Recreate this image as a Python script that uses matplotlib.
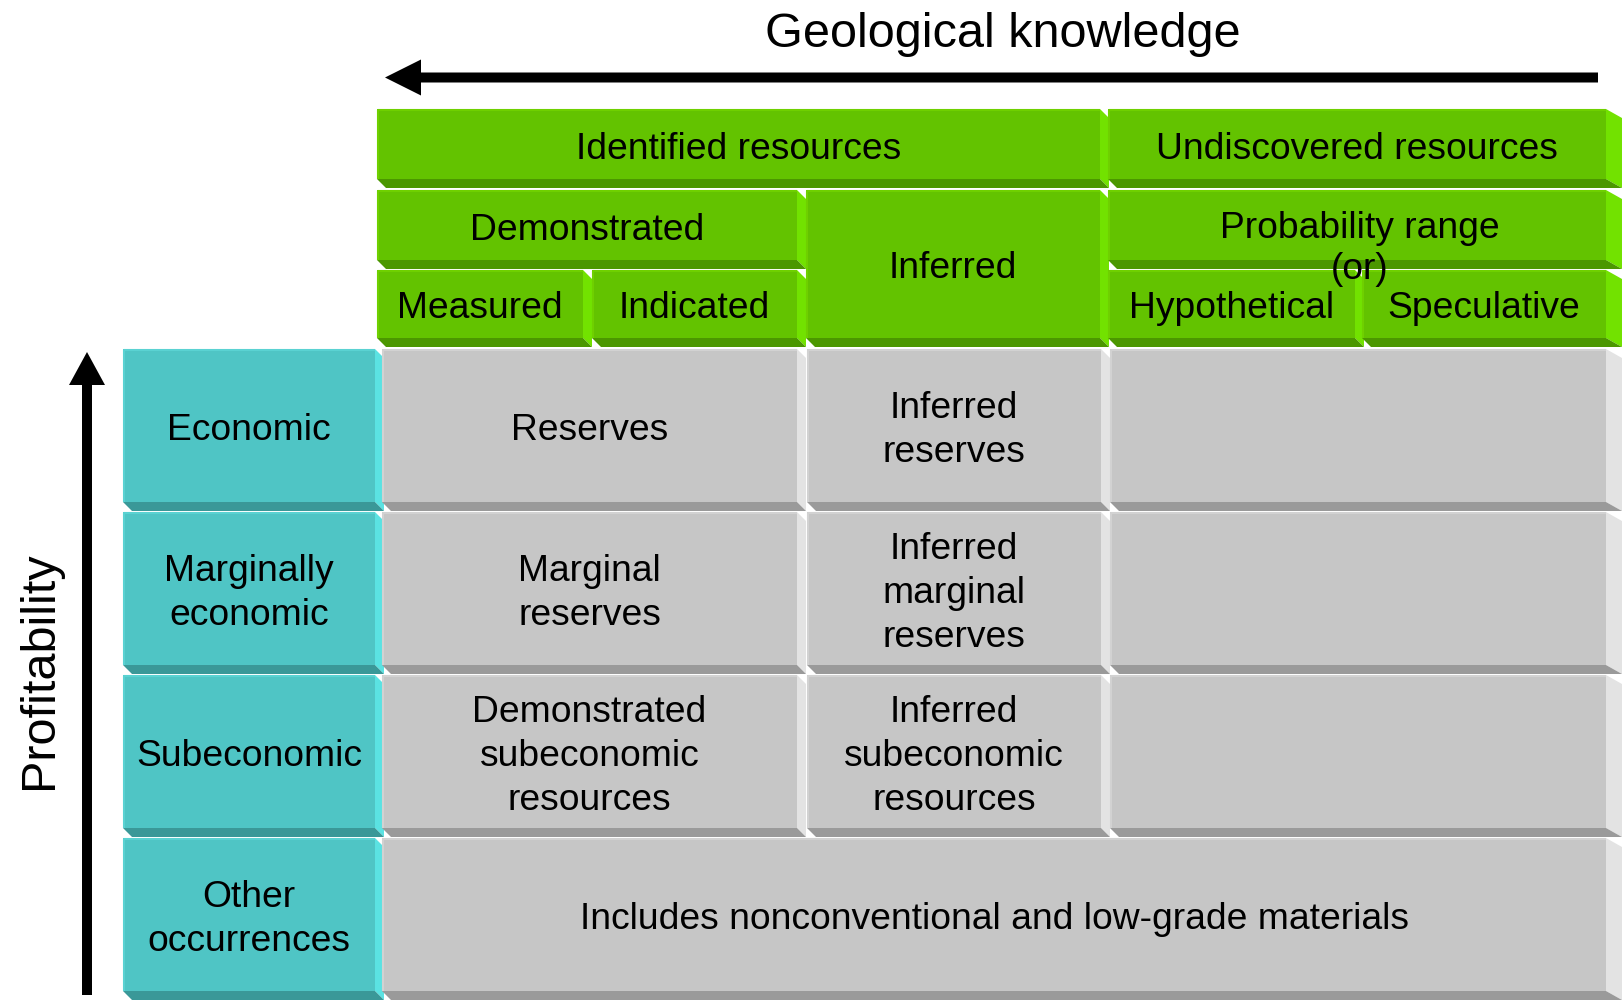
import matplotlib.pyplot as plt
from matplotlib.patches import Rectangle, Polygon, FancyArrow

plt.rcParams['font.family'] = ['Liberation Sans', 'DejaVu Sans']

# labels
title_x = 'Geological knowledge'
title_y = 'Profitability'
header_top = ['Identified resources', 'Undiscovered resources']
header_mid = ['Demonstrated', 'Inferred', 'Probability range\n(or)']
header_low = ['Measured', 'Indicated', 'Hypothetical', 'Speculative']
row_labels = ['Economic', 'Marginally\neconomic', 'Subeconomic', 'Other\noccurrences']
cells_demonstrated = ['Reserves', 'Marginal\nreserves', 'Demonstrated\nsubeconomic\nresources']
cells_inferred = ['Inferred\nreserves', 'Inferred\nmarginal\nreserves', 'Inferred\nsubeconomic\nresources']
cells_undiscovered = ['', '', '']
other_text = 'Includes nonconventional and low-grade materials'

# colours (face, light side, dark side, edge highlight)
GREEN = ('#63c300', '#72e200', '#4b9700', '#6fd000')
CYAN = ('#4fc5c5', '#5be2e2', '#3a9898', '#5ad2d2')
GRAY = ('#c6c6c6', '#e3e3e3', '#9a9a9a', '#d2d2d2')

FS = 26.8
B = 9  # bevel depth in px
DY = 5  # nudge text down to match optical centre


def box(ax, x0, y0, x1, y1, col, text='', br=B):
    face, light, dark, hi = col
    ax.add_patch(Polygon([(x1, y0), (x1 + br, y0 + B), (x1 + br, y1 + B), (x1, y1)],
                         closed=True, color=light, lw=0))
    ax.add_patch(Polygon([(x0, y1), (x1, y1), (x1 + br, y1 + B), (x0 + B, y1 + B)],
                         closed=True, color=dark, lw=0))
    ax.add_patch(Rectangle((x0, y0), x1 - x0, y1 - y0, color=face, lw=0))
    ax.plot([x0 + 1, x0 + 1, x1], [y1, y0 + 1, y0 + 1], color=hi, lw=1.5, solid_capstyle='butt')
    if text:
        ax.text((x0 + x1) / 2, (y0 + y1) / 2 + DY, text, ha='center', va='center',
                fontsize=FS, linespacing=1.35, color='black')


fig = plt.figure(figsize=(16.22, 10.02), dpi=100)
ax = fig.add_axes([0, 0, 1, 1])
ax.set_xlim(0, 1622)
ax.set_ylim(1002, 0)
ax.axis('off')

# layout (pixels)
gx = [377, 583, 592, 797, 806, 1100, 1108, 1355, 1362, 1606]
gy = [109, 179, 190, 260, 270, 338]
rows_top = [349, 512, 675, 838]
row_h = 153
cyan_x = (123, 375)
cols = [(382, 797), (807, 1101), (1110, 1606)]

# green header
box(ax, gx[0], gy[0], gx[5], gy[1], GREEN, header_top[0])
box(ax, gx[6], gy[0], gx[9], gy[1], GREEN, header_top[1], br=16)
box(ax, gx[0], gy[2], gx[3], gy[3], GREEN, header_mid[0])
box(ax, gx[4], gy[2], gx[5], gy[5], GREEN, header_mid[1])
box(ax, gx[6], gy[2], gx[9], gy[3], GREEN, br=16)
box(ax, gx[0], gy[4], gx[1], gy[5], GREEN, header_low[0])
box(ax, gx[2], gy[4], gx[3], gy[5], GREEN, header_low[1])
box(ax, gx[6], gy[4], gx[7], gy[5], GREEN, header_low[2])
box(ax, gx[8], gy[4], gx[9], gy[5], GREEN, header_low[3], br=16)
ax.text((gx[6] + gx[9]) / 2 + 3, 249, header_mid[2], ha='center', va='center',
        fontsize=FS, linespacing=1.2)

# row labels and cells
for i, lab in enumerate(row_labels):
    y0 = rows_top[i]
    y1 = y0 + row_h
    box(ax, cyan_x[0], y0, cyan_x[1], y1, CYAN, lab)
    if i < 3:
        box(ax, cols[0][0], y0, cols[0][1], y1, GRAY, cells_demonstrated[i])
        box(ax, cols[1][0], y0, cols[1][1], y1, GRAY, cells_inferred[i])
        box(ax, cols[2][0], y0, cols[2][1], y1, GRAY, cells_undiscovered[i], br=16)
    else:
        box(ax, cols[0][0], y0, cols[2][1], y1, GRAY, other_text, br=16)

# arrows
ax.add_patch(FancyArrow(1598, 77.5, 385 - 1598, 0, width=10, head_width=36, head_length=36,
                        length_includes_head=True, color='black', lw=0))
ax.add_patch(FancyArrow(87, 995, 0, 352 - 995, width=10, head_width=36, head_length=33,
                        length_includes_head=True, color='black', lw=0))
ax.text(1003, 34, title_x, ha='center', va='center', fontsize=35)
ax.text(39, 670, title_y, ha='center', va='center', fontsize=35, rotation=90)

fig.savefig('out.png', dpi=100)
